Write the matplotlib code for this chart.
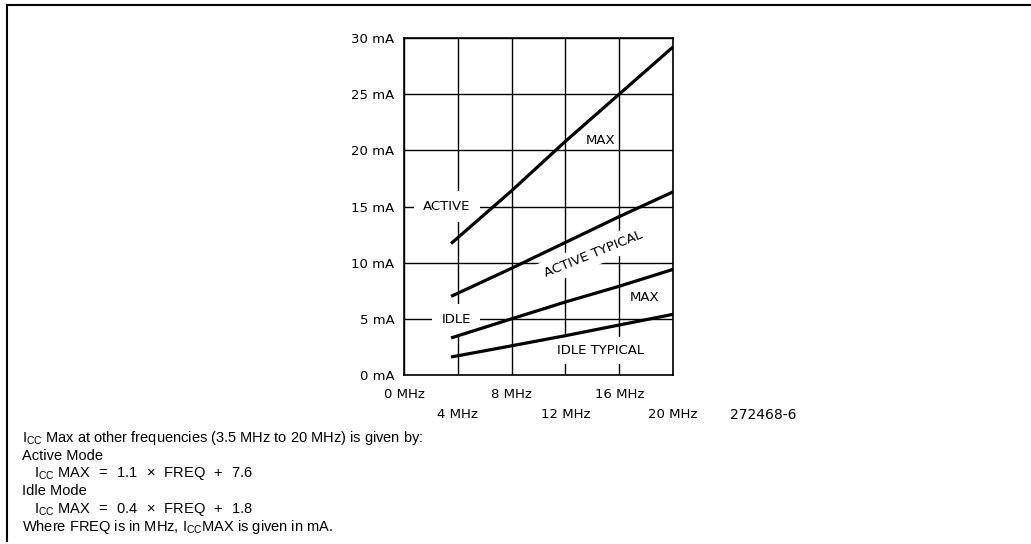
import matplotlib.pyplot as plt
from matplotlib.lines import Line2D

plt.rcParams['font.family'] = 'DejaVu Sans'
plt.rcParams['mathtext.fontset'] = 'custom'
plt.rcParams['mathtext.rm'] = 'Liberation Sans'

# values (frequency in MHz, current in mA)
freq = [3.5, 8, 12, 16, 20]
active_max = [11.7, 16.4, 20.8, 25.0, 29.2]
active_typical = [7.0, 9.5, 11.8, 14.1, 16.3]
idle_max = [3.3, 5.0, 6.5, 7.9, 9.4]
idle_typical = [1.6, 2.6, 3.5, 4.45, 5.4]

y_ticks = [0, 5, 10, 15, 20, 25, 30]
x_upper = [0, 8, 16]
x_lower = [4, 12, 20]

notes = [
    r'I$_{\rm CC}$ Max at other frequencies (3.5 MHz to 20 MHz) is given by:',
    'Active Mode',
    r'   I$_{\rm CC}$ MAX $\,=\,$ 1.1 $\,\times\,$ FREQ $\,+\,$ 7.6',
    'Idle Mode',
    r'   I$_{\rm CC}$ MAX $\,=\,$ 0.4 $\,\times\,$ FREQ $\,+\,$ 1.8',
    r'Where FREQ is in MHz, I$_{\rm CC}$MAX is given in mA.',
]

fs = 9.5

fig = plt.figure(figsize=(10.31, 5.44), dpi=100)
ax = fig.add_axes([404 / 1031, 1 - 375 / 544, 269 / 1031, 337 / 544])

ax.set_xlim(0, 20)
ax.set_ylim(0, 30)
ax.set_axisbelow(True)

ax.set_yticks(y_ticks)
ax.set_yticklabels([f'{v} mA' for v in y_ticks])
ax.set_xticks(x_upper)
ax.set_xticklabels([f'{v} MHz' for v in x_upper])
ax.set_xticks(x_lower, minor=True)
ax.set_xticklabels([f'{v} MHz' for v in x_lower], minor=True)
ax.tick_params(axis='y', length=0, pad=7, labelsize=fs)
ax.tick_params(axis='x', which='major', length=0, pad=9.5, labelsize=fs)
ax.tick_params(axis='x', which='minor', length=0, pad=23.5, labelsize=fs)
ax.grid(True, which='both', color='black', linewidth=1.0)

for s in ax.spines.values():
    s.set_linewidth(1.2)

for ys in [active_max, active_typical, idle_max, idle_typical]:
    ax.plot(freq, ys, color='black', linewidth=2.3, solid_capstyle='butt', zorder=5)

box = dict(boxstyle='square,pad=0.7', facecolor='white', edgecolor='none')
ax.text(3.2, 15.0, 'ACTIVE', ha='center', va='center', fontsize=fs, bbox=box, zorder=3)
ax.text(3.87, 4.9, 'IDLE', ha='center', va='center', fontsize=fs, bbox=box, zorder=3)
ax.text(14.05, 10.75, 'ACTIVE TYPICAL', ha='center', va='center', fontsize=fs,
        rotation=22, rotation_mode='anchor',
        bbox=dict(boxstyle='square,pad=0.4', facecolor='white', edgecolor='none'), zorder=3)
ax.text(14.6, 2.17, 'IDLE TYPICAL', ha='center', va='center', fontsize=fs,
        bbox=dict(boxstyle='square,pad=0.55', facecolor='white', edgecolor='none'), zorder=3)
ax.text(14.65, 20.9, 'MAX', ha='center', va='center', fontsize=fs, zorder=3)
ax.text(17.9, 6.9, 'MAX', ha='center', va='center', fontsize=fs, zorder=3)

fig.text(763 / 1031, 1 - 415 / 544, '272468-6', ha='center', va='center', fontsize=10)

for i, line in enumerate(notes):
    fig.text(22 / 1031, 1 - (438 + i * 17.8) / 544, line, ha='left', va='center',
             fontsize=10.5, family='Liberation Sans')

# page frame
fig.add_artist(Line2D([7 / 1031, 7 / 1031], [1 - 541 / 544, 1 - 5 / 544],
                      color='black', linewidth=1.5))
fig.add_artist(Line2D([7 / 1031, 1], [1 - 5 / 544, 1 - 5 / 544],
                      color='black', linewidth=1.5))

fig.savefig('out.png', dpi=100)
